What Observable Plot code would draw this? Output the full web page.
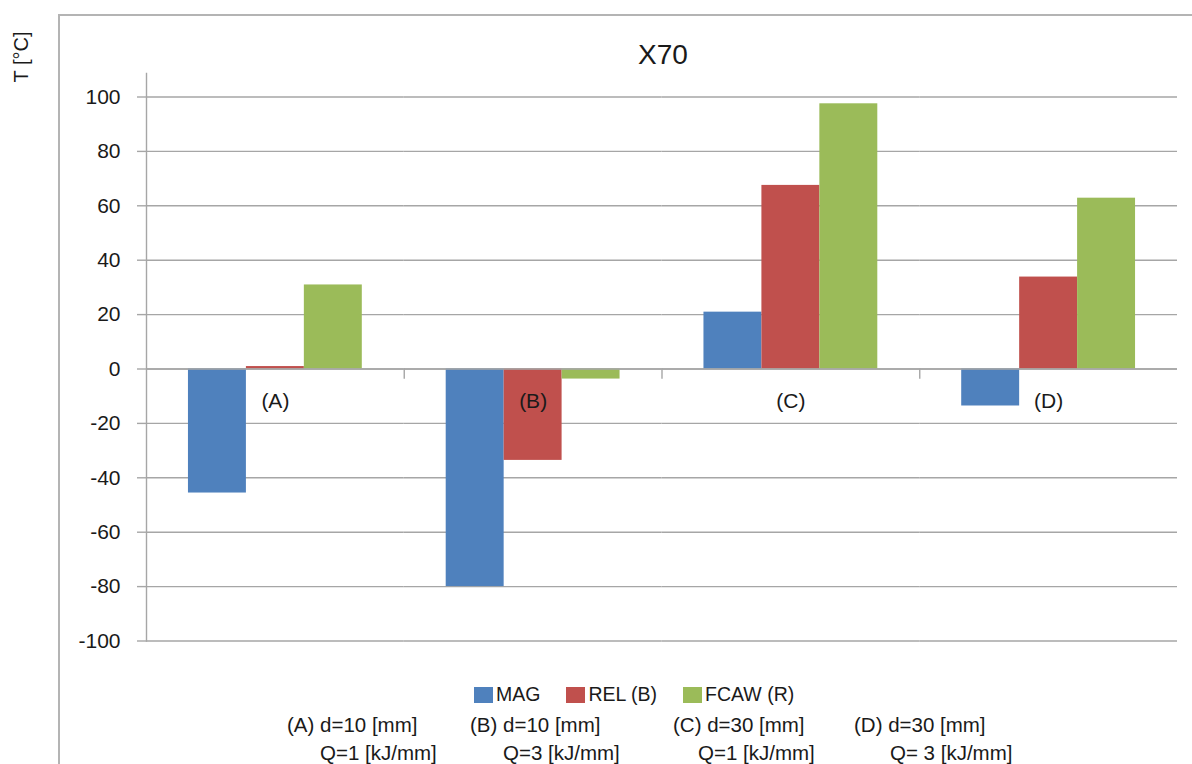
<!DOCTYPE html>
<html><head><meta charset="utf-8">
<script src="https://cdn.jsdelivr.net/npm/d3@7"></script>
<script src="https://cdn.jsdelivr.net/npm/@observablehq/plot@0.6"></script>
<style>
body{margin:0;background:#fff;}
#wrap{position:relative;width:1192px;height:764px;overflow:hidden;background:#fff;font-family:"Liberation Sans",Arial,sans-serif;color:#1a1a1a;}
#border{position:absolute;left:58px;top:14px;right:-10px;bottom:-10px;border-left:2px solid #b4b4b4;border-top:2px solid #b4b4b4;}
#chart{position:absolute;left:0;top:0;}
.t{position:absolute;white-space:pre;line-height:1;}
#legend{position:absolute;left:474px;top:685px;display:flex;align-items:center;font-size:19.5px;line-height:1;}
.item{display:flex;align-items:center;margin-right:26px;}
.sw{width:19px;height:16px;margin-right:3px;}
</style></head><body>
<div id="wrap">
  <div id="border"></div>
  <div id="chart"></div>
  <div class="t" id="title" style="left:663px;top:41px;font-size:28px;transform:translateX(-50%);"></div>
  <div class="t" id="ylabel" style="left:21px;top:57px;font-size:20px;transform:translate(-50%,-50%) rotate(-90deg);"></div>
  <div id="legend"></div>
  <div id="caption"></div>
</div>
<script>
const chartTitle = "X70";
const yLabel = "T [°C]";
const categories = ["(A)", "(B)", "(C)", "(D)"];
const series = ["MAG", "REL (B)", "FCAW (R)"];
const magValues = [-45.6, -80, 20.9, -13.6];
const relValues = [0.9, -33.6, 67.5, 33.8];
const fcawValues = [30.9, -3.7, 97.5, 62.8];
const yTicks = [-100, -80, -60, -40, -20, 0, 20, 40, 60, 80, 100];
const colors = ["#4F81BD", "#C0504D", "#9BBB59"];
const captionLine1 = ["(A) d=10 [mm]", "(B) d=10 [mm]", "(C) d=30 [mm]", "(D) d=30 [mm]"];
const captionLine2 = ["Q=1 [kJ/mm]", "Q=3 [kJ/mm]", "Q=1 [kJ/mm]", "Q= 3 [kJ/mm]"];

const seriesValues = [magValues, relValues, fcawValues];
const data = categories.flatMap((c, i) => series.map((s, j) => ({cat: c, series: s, value: seriesValues[j][i]})));

const grey = "#a6a6a6";
const font = '"Liberation Sans", Arial, sans-serif';

const plot = Plot.plot({
  width: 1192,
  height: 660,
  marginTop: 73,
  marginBottom: 19.5,
  marginLeft: 146,
  marginRight: 15,
  style: {background: "transparent", fontFamily: font, color: "#1a1a1a", overflow: "visible"},
  fx: {domain: categories, padding: 0, axis: null, round: false},
  x: {domain: series, paddingInner: 0, paddingOuter: 0.724, axis: null, round: false},
  y: {domain: [-100, 100], insetTop: 23.5, axis: null},
  color: {domain: series, range: colors},
  marks: [
    Plot.gridY(yTicks, {stroke: grey, strokeOpacity: 1, strokeWidth: 1.4}),
    Plot.barY(data, {fx: "cat", x: "series", y: "value", fill: "series"}),
    Plot.ruleY([0], {stroke: grey, strokeWidth: 1.4}),
    Plot.axisY(yTicks, {label: null, tickFormat: d => String(d), tickSize: 9, tickPadding: 17, fontSize: 21, stroke: grey, strokeWidth: 1.4, fill: "#1a1a1a"}),
    Plot.frame({anchor: "left", fx: () => categories[0], stroke: grey, strokeWidth: 1.4}),
    ...categories.slice(1).map(c => Plot.frame({anchor: "left", fx: () => c, insetTop: 295.5, insetBottom: 263, stroke: grey, strokeWidth: 1.4})),
    Plot.text(categories, {fx: d => d, y: 0, dy: 32, text: d => d, fontSize: 21, fill: "#1a1a1a"})
  ]
});
document.getElementById("chart").appendChild(plot);

document.getElementById("title").textContent = chartTitle;
document.getElementById("ylabel").textContent = yLabel;

const legend = document.getElementById("legend");
series.forEach((s, i) => {
  const item = document.createElement("div");
  item.className = "item";
  const sw = document.createElement("div");
  sw.className = "sw";
  sw.style.background = colors[i];
  const lab = document.createElement("span");
  lab.textContent = s;
  item.appendChild(sw); item.appendChild(lab);
  legend.appendChild(item);
});

const cap = document.getElementById("caption");
const line1Left = [287, 470, 673, 854];
const line2Left = [320, 503, 698, 890];
captionLine1.forEach((t, i) => {
  const d = document.createElement("div");
  d.className = "t"; d.textContent = t;
  d.style.left = line1Left[i] + "px"; d.style.top = "715px"; d.style.fontSize = "20.5px";
  cap.appendChild(d);
});
captionLine2.forEach((t, i) => {
  const d = document.createElement("div");
  d.className = "t"; d.textContent = t;
  d.style.left = line2Left[i] + "px"; d.style.top = "743px"; d.style.fontSize = "20.5px";
  cap.appendChild(d);
});
</script>
</body></html>
